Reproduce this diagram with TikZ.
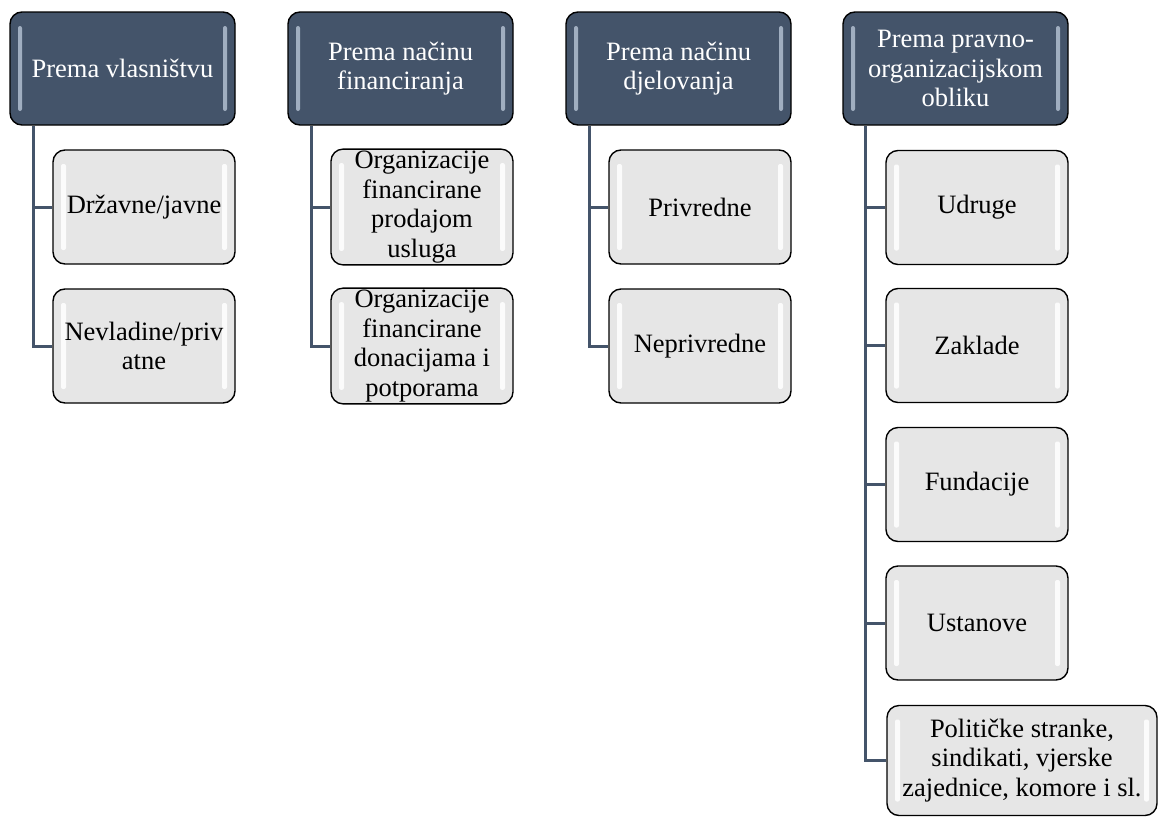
\documentclass[tikz,border=0pt]{standalone}
\usepackage{fontspec}
\setmainfont{Liberation Serif}
\definecolor{hdr}{RGB}{68,84,106}
\definecolor{kid}{RGB}{230,230,230}
\definecolor{hdrgloss}{RGB}{160,174,192}
\tikzset{
  base/.style={draw=black, line width=1.4pt, rounded corners=12pt, align=center,
    inner sep=2pt, font=\fontsize{26.5}{29.5}\selectfont},
  headbox/.style={base, fill=hdr, text=white, minimum width=225pt, minimum height=113pt,
    path picture={
      \fill[hdrgloss, rounded corners=2pt] ([xshift=8pt,yshift=-14pt]path picture bounding box.north west) rectangle ([xshift=12pt,yshift=14pt]path picture bounding box.south west);
      \fill[hdrgloss, rounded corners=2pt] ([xshift=-8pt,yshift=-14pt]path picture bounding box.north east) rectangle ([xshift=-12pt,yshift=14pt]path picture bounding box.south east);
    }},
  kidbox/.style={base, fill=kid, text=black, minimum width=182pt, minimum height=114pt,
    path picture={
      \fill[white, opacity=0.85, rounded corners=2pt] ([xshift=8pt,yshift=-14pt]path picture bounding box.north west) rectangle ([xshift=13pt,yshift=14pt]path picture bounding box.south west);
      \fill[white, opacity=0.85, rounded corners=2pt] ([xshift=-8pt,yshift=-14pt]path picture bounding box.north east) rectangle ([xshift=-13pt,yshift=14pt]path picture bounding box.south east);
    }},
  conn/.style={draw=hdr, line width=3pt}
}
\begin{document}
\begin{tikzpicture}[x=1pt,y=-1pt]
\useasboundingbox (0,0) rectangle (1160,817);
% headers
\node[headbox] (h1) at (122.5,68.5) {Prema vlasništvu};
\node[headbox] (h2) at (400.5,68.5) {Prema načinu\\financiranja};
\node[headbox] (h3) at (678.5,68.5) {Prema načinu\\djelovanja};
\node[headbox] (h4) at (955.5,68.5) {Prema pravno-\\organizacijskom\\obliku};
% column 1
\node[kidbox] (c11) at (144,207) {Državne/javne};
\node[kidbox] (c12) at (144,346) {Nevladine/priv\\atne};
% column 2
\node[kidbox] (c21) at (422,207) {Organizacije\\financirane\\prodajom\\usluga};
\node[kidbox] (c22) at (422,346) {Organizacije\\financirane\\donacijama i\\potporama};
% column 3
\node[kidbox] (c31) at (700,207) {Privredne};
\node[kidbox] (c32) at (700,346) {Neprivredne};
% column 4
\node[kidbox] (c41) at (977,207.5) {Udruge};
\node[kidbox] (c42) at (977,345.5) {Zaklade};
\node[kidbox] (c43) at (977,484.5) {Fundacije};
\node[kidbox] (c44) at (977,623) {Ustanove};
\node[kidbox, minimum width=270pt, minimum height=110pt] (c45) at (1022,760.5) {Političke stranke,\\sindikati, vjerske\\zajednice, komore i sl.};
% connectors
\path (h1.south west) ++(24,0) coordinate (t1);
\path (h2.south west) ++(24,0) coordinate (t2);
\path (h3.south west) ++(24,0) coordinate (t3);
\path (h4.south west) ++(23,0) coordinate (t4);
\draw[conn] (t1) |- (c12.west);
\draw[conn] (t1 |- c11.west) -- (c11.west);
\draw[conn] (t2) |- (c22.west);
\draw[conn] (t2 |- c21.west) -- (c21.west);
\draw[conn] (t3) |- (c32.west);
\draw[conn] (t3 |- c31.west) -- (c31.west);
\draw[conn] (t4) |- (c45.west);
\draw[conn] (t4 |- c41.west) -- (c41.west);
\draw[conn] (t4 |- c42.west) -- (c42.west);
\draw[conn] (t4 |- c43.west) -- (c43.west);
\draw[conn] (t4 |- c44.west) -- (c44.west);
\end{tikzpicture}
\end{document}
